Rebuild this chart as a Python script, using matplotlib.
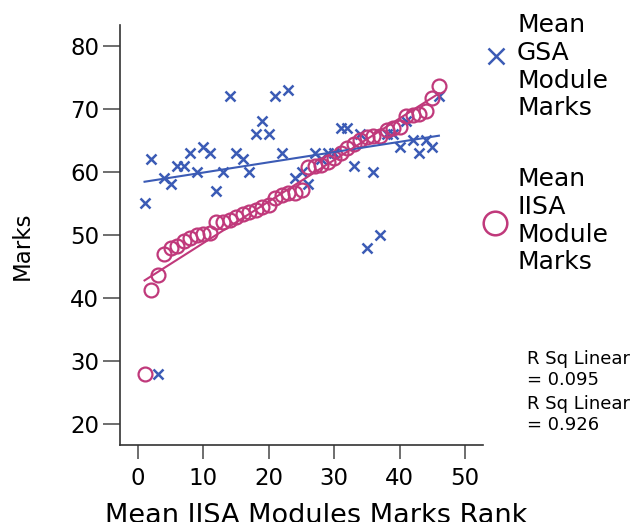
import numpy as np
import matplotlib.pyplot as plt
from matplotlib.lines import Line2D

# ----------------------------
# DATA
# ----------------------------
rank = list(range(1, 47))

gsa_marks = [55, 62, 28, 59, 58, 61, 61, 63, 60, 64,
             63, 57, 60, 72, 63, 62, 60, 66, 68, 66,
             72, 63, 73, 59, 60, 58, 63, 62, 63, 63,
             67, 67, 61, 66, 48, 60, 50, 66, 66, 64,
             68, 65, 63, 65, 64, 72]

iisa_marks = [28.0, 41.3, 43.7, 47.0, 48.0, 48.3, 49.0, 49.5, 50.0, 50.2,
              50.3, 52.0, 52.0, 52.4, 52.8, 53.3, 53.6, 54.0, 54.4, 54.8,
              55.9, 56.3, 56.7, 56.7, 57.1, 60.8, 61.0, 61.1, 61.6, 62.2,
              63.0, 63.8, 64.4, 65.0, 65.6, 65.7, 65.7, 66.7, 67.0, 67.1,
              68.9, 69.0, 69.2, 69.7, 71.7, 73.6]

legend_labels = ["Mean\nGSA\nModule\nMarks", "Mean\nIISA\nModule\nMarks"]
rsq_labels = ["R Sq Linear\n= 0.095", "R Sq Linear\n= 0.926"]

BLUE = "#3B5BB5"
PINK = "#C0397B"

# ----------------------------
# PLOT
# ----------------------------
plt.rcParams["font.family"] = ["DejaVu Sans"]

fig = plt.figure(figsize=(6.33, 5.22), dpi=100)
ax = fig.add_axes([0.1896, 0.1475, 0.5735, 0.8046])

x = np.array(rank)
ax.plot(x, gsa_marks, linestyle="none", marker="x", markersize=7.5,
        markeredgewidth=1.8, color=BLUE)
ax.plot(x, iisa_marks, linestyle="none", marker="o", markersize=10,
        markerfacecolor="none", markeredgewidth=1.6, markeredgecolor=PINK)

# linear fit lines
for vals, col in [(gsa_marks, BLUE), (iisa_marks, PINK)]:
    k, b = np.polyfit(x, vals, 1)
    ax.plot([x.min(), x.max()], [k * x.min() + b, k * x.max() + b],
            color=col, linewidth=1.5)

ax.set_xlim(-2.75, 52.75)
ax.set_ylim(16.67, 83.3)
ax.set_xticks([0, 10, 20, 30, 40, 50])
ax.set_yticks([20, 30, 40, 50, 60, 70, 80])

for s in ["top", "right"]:
    ax.spines[s].set_visible(False)
for s in ["left", "bottom"]:
    ax.spines[s].set_color("#333333")
    ax.spines[s].set_linewidth(1.2)

ax.tick_params(axis="x", length=10, width=1.2, color="#555555",
               labelsize=16.5, pad=6)
ax.tick_params(axis="y", length=12, width=1.2, color="#555555",
               labelsize=16.5, pad=3)

ax.set_xlabel("Mean IISA Modules Marks Rank", fontsize=19.5, va="top")
ax.xaxis.set_label_coords(0.54, -0.138)
ax.set_ylabel("Marks", fontsize=16.5, va="center")
ax.yaxis.set_label_coords(-0.27, 0.474)

# legend (outside, right)
W, H = 633.0, 522.0
fig.add_artist(Line2D([496 / W], [1 - 56 / H], transform=fig.transFigure,
                      marker="x", markersize=12, markeredgewidth=1.8,
                      color=BLUE, linestyle="none"))
fig.add_artist(Line2D([495 / W], [1 - 223 / H], transform=fig.transFigure,
                      marker="o", markersize=17, markerfacecolor="none",
                      markeredgewidth=1.8, markeredgecolor=PINK,
                      linestyle="none"))
fig.text(517 / W, 1 - 13 / H, legend_labels[0], fontsize=18, va="top")
fig.text(517 / W, 1 - 167 / H, legend_labels[1], fontsize=18, va="top")

fig.text(527 / W, 1 - 350 / H, rsq_labels[0], fontsize=13, va="top")
fig.text(527 / W, 1 - 395 / H, rsq_labels[1], fontsize=13, va="top")

fig.savefig("out.png", dpi=100)
